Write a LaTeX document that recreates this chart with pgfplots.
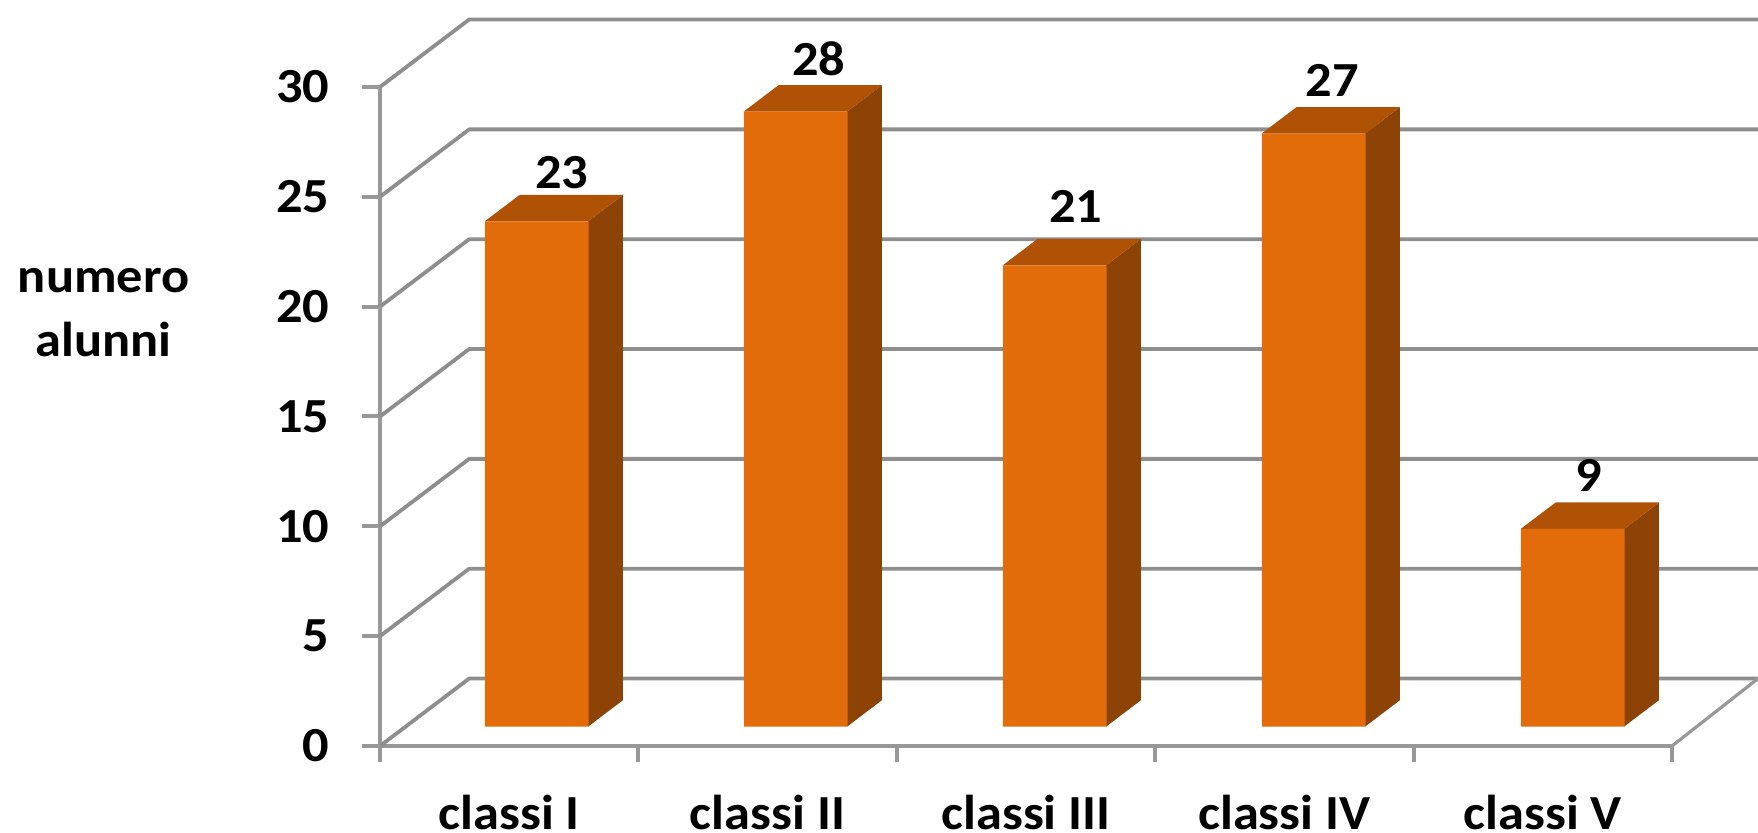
\documentclass[border=0pt]{standalone}
\usepackage{fontspec}
\setmainfont{Carlito}[FakeStretch=1.07]
\usepackage{pgfplots}
\usepackage{pgfplotstable}
\pgfplotsset{compat=1.18}
\definecolor{barfront}{HTML}{E36C0A}
\definecolor{barside}{HTML}{8D4306}
\definecolor{bartop}{HTML}{AF5205}
\definecolor{wallgray}{HTML}{989898}
\definecolor{gridgray}{HTML}{8E8E8E}
\newcommand{\lblfont}{\fontsize{24.5}{32}\selectfont\bfseries}
\pgfplotstableread{
x off v lift
0 0.88 23 0
1 0.88 28 0.15
2 0.88 21 0.46
3 0.88 27 0.2
4 0.88 9 0.2
}\classdata
\begin{document}
\begin{tikzpicture}
\path[use as bounding box] (0,0) rectangle (879pt,416.5pt);
\begin{axis}[
  at={(190pt,43.5pt)}, anchor=south west,
  scale only axis, width=646pt, height=329.5pt,
  xmin=0, xmax=5, ymin=0, ymax=30,
  clip=false,
  axis x line*=bottom, axis y line*=left,
  axis line style={wallgray, line width=2pt, -},
  tick style={wallgray, line width=2pt},
  tick align=outside,
  ytick={0,5,...,30},
  major tick length=9pt,
  minor tick length=8pt,
  xtick={0.5,1.5,2.5,3.5,4.5},
  xticklabels={classi I,classi II,classi III,classi IV,classi V},
  minor xtick={0,1,2,3,4,5},
  x tick style={draw=none},
  minor x tick style={wallgray, line width=2pt, draw=wallgray},
  major tick style={},
  /pgf/number format/assume math mode=true,
  ticklabel style={font=\lblfont, black},
  yticklabel style={xshift=-12.7pt},
  xticklabel style={inner sep=0pt, outer sep=0pt, yshift=-15.5pt},
  ylabel={numero\\alunni},
  ylabel style={at={(axis description cs:-0.2139,0.6570)}, rotate=-90, anchor=center, align=center, font=\lblfont},
]
% depth gridlines
\addplot[gridgray, line width=1.9pt, line join=round, forget plot] coordinates {(0,0) (0.345,3.07) (5.333,3.07)};
\addplot[gridgray, line width=1.9pt, line join=round, forget plot] coordinates {(0,5) (0.345,8.07) (5.333,8.07)};
\addplot[gridgray, line width=1.9pt, line join=round, forget plot] coordinates {(0,10) (0.345,13.07) (5.333,13.07)};
\addplot[gridgray, line width=1.9pt, line join=round, forget plot] coordinates {(0,15) (0.345,18.07) (5.333,18.07)};
\addplot[gridgray, line width=1.9pt, line join=round, forget plot] coordinates {(0,20) (0.345,23.07) (5.333,23.07)};
\addplot[gridgray, line width=1.9pt, line join=round, forget plot] coordinates {(0,25) (0.345,28.07) (5.333,28.07)};
\addplot[gridgray, line width=1.9pt, line join=round, forget plot] coordinates {(0,30) (0.345,33.07) (5.333,33.07)};
\addplot[wallgray, line width=1.6pt, forget plot] coordinates {(5,0) (5.333,3.07)};
% side and top faces of the bars
\pgfplotsforeachungrouped \i in {0,...,4}{
  \pgfplotstablegetelem{\i}{v}\of\classdata
  \pgfmathsetmacro{\xl}{\i*1.00232+0.405}
  \pgfmathsetmacro{\xr}{\i*1.00232+0.805}
  \pgfmathsetmacro{\xrb}{\i*1.00232+0.805+0.1354}
  \pgfmathsetmacro{\xlb}{\i*1.00232+0.405+0.1354}
  \pgfmathsetmacro{\T}{\pgfplotsretval+0.88}
  \pgfmathsetmacro{\Tb}{\pgfplotsretval+0.88+1.206}
  \edef\temp{\noexpand\addplot[fill=barside, draw=none, forget plot] coordinates {(\xr,0.88) (\xrb,2.086) (\xrb,\Tb) (\xr,\T)} --cycle;
    \noexpand\addplot[fill=bartop, draw=none, forget plot] coordinates {(\xl,\T) (\xlb,\Tb) (\xrb,\Tb) (\xr,\T)} --cycle;}
  \temp
}
\end{axis}
\begin{axis}[
  at={(190pt,43.5pt)}, anchor=south west,
  scale only axis, width=646pt, height=329.5pt,
  xmin=-0.605, xmax=4.383, ymin=0, ymax=30,
  clip=false, hide axis,
  ybar stacked, bar width=51.9pt,
]
\addplot[draw=none, fill=none] table[x=x, y=off] {\classdata};
\addplot[draw=none, fill=barfront] table[x=x, y=v] {\classdata};
\end{axis}
\begin{axis}[
  at={(190pt,43.5pt)}, anchor=south west,
  scale only axis, width=646pt, height=329.5pt,
  xmin=-0.605, xmax=4.426, ymin=0, ymax=30,
  clip=false, hide axis,
]
\addplot[draw=none, mark=none,
  nodes near coords,
  point meta=explicit symbolic,
  every node near coord/.style={font=\lblfont, black, anchor=base, xshift=13.3pt, yshift=16.5pt},
] table[x=x, y expr=\thisrow{v}+\thisrow{off}+\thisrow{lift}, meta=v] {\classdata};
\end{axis}
\end{tikzpicture}
\end{document}
